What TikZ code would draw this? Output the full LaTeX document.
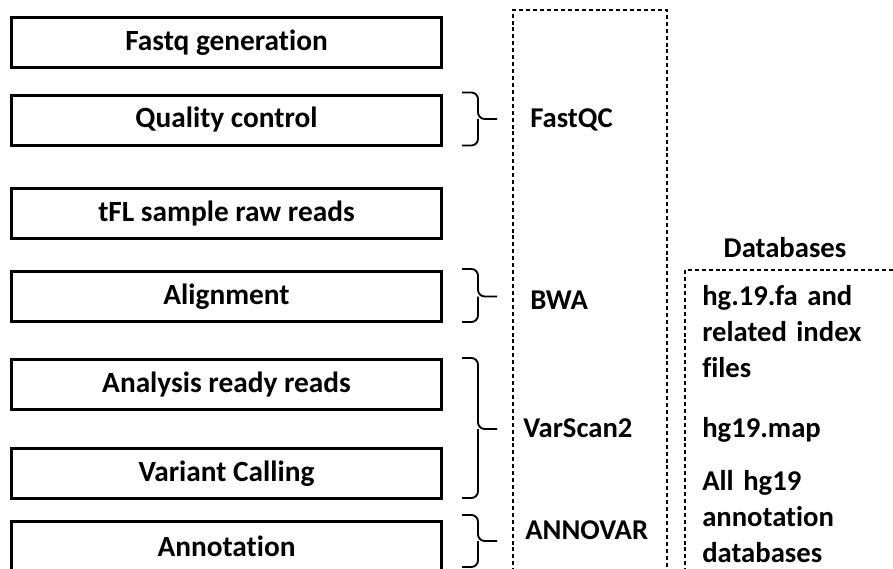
\documentclass[tikz,border=0pt]{standalone}
\usepackage{fontspec}
\setmainfont{Carlito}[Ligatures={NoCommon}]
\usetikzlibrary{positioning,calc}

\tikzset{
  stepbox/.style={
    draw, line width=2.25pt, rectangle,
    minimum width=322.5pt, minimum height=37.5pt,
    inner sep=0pt,
    font=\fontsize{22}{26}\selectfont\bfseries
  },
  toolbrace/.style={line width=1.4pt, rounded corners=5pt},
  toollabel/.style={
    anchor=west, inner sep=0pt,
    font=\fontsize{21.5}{26}\selectfont\bfseries
  },
  dbtext/.style={
    anchor=base west, inner sep=0pt, align=left, text width=150pt,
    font=\fontsize{21.5}{27}\selectfont\bfseries
  },
  dashbox/.style={line width=1.1pt, dash pattern=on 3pt off 2.2pt}
}

\begin{document}
\begin{tikzpicture}[x=0.75pt, y=-0.75pt]

\useasboundingbox (0,0) rectangle (893,568);
\clip (0,0) rectangle (893,568);

% ----------------------
% Pipeline steps
% ----------------------
\node[stepbox] (fastq) at (226.5,42.5)  {Fastq generation};
\node[stepbox] (qc)    at (226.5,120)   {Quality control};
\node[stepbox] (raw)   at (226.5,213.5) {tFL sample raw reads};
\node[stepbox] (align) at (226.5,296.5) {Alignment};
\node[stepbox] (ready) at (226.5,384.5) {Analysis ready reads};
\node[stepbox] (call)  at (226.5,473.5) {Variant Calling};
\node[stepbox] (annot) at (226.5,546.5) {Annotation};

% ----------------------
% Tools column
% ----------------------
\draw[dashbox] (513,600) |- (667,10) -- (667,600);

% braces: hook -- bar -- tip
\coordinate (bqc)  at ($(qc.east)+(35,-1)$);
\coordinate (bbwa) at ($(align.east)+(35,0)$);
\coordinate (bvar) at ($(ready.north east)!0.5!(call.south east)+(35,0)$);
\coordinate (bann) at ($(annot.north east)+(35,21)$);

\draw[toolbrace] ($(qc.north east)+(19,-1)$) -| (bqc) -- ++(19,0);
\draw[toolbrace] ($(qc.south east)+(19,-1)$) -| (bqc);
\draw[toolbrace] ($(align.north east)+(19,-1)$) -| (bbwa) -- ++(19,0);
\draw[toolbrace] ($(align.south east)+(19,-1)$) -| (bbwa);
\draw[toolbrace] ($(ready.north east)+(19,0)$) -| (bvar) -- ++(19,0);
\draw[toolbrace] ($(call.south east)+(19,-2)$) -| (bvar);
\draw[toolbrace] ($(annot.north east)+(19,-5)$) -| (bann) -- ++(19,0);
\draw[toolbrace] ($(annot.north east)+(19,47)$) -| (bann);

\node[toollabel] (fastqc)  at (530,120) {FastQC};
\node[toollabel] (bwa)     at (530,300) {BWA};
\node[toollabel] (varscan) at (523,428) {VarScan2};
\node[toollabel] (annovar) at (525,530) {ANNOVAR};

% ----------------------
% Databases column
% ----------------------
\node[font=\fontsize{21.5}{26}\selectfont\bfseries, inner sep=0pt] (dbtitle) at (785,248) {Databases};

\draw[dashbox] (685,600) |- (900,270);

\node[dbtext] (hgfa)  at (702,305) {hg.19.fa and\\related index\\files};
\node[dbtext] (hgmap) at (702,437) {hg19.map};
\node[dbtext] (hgall) at (702,490) {All hg19\\annotation\\databases};

\end{tikzpicture}
\end{document}
